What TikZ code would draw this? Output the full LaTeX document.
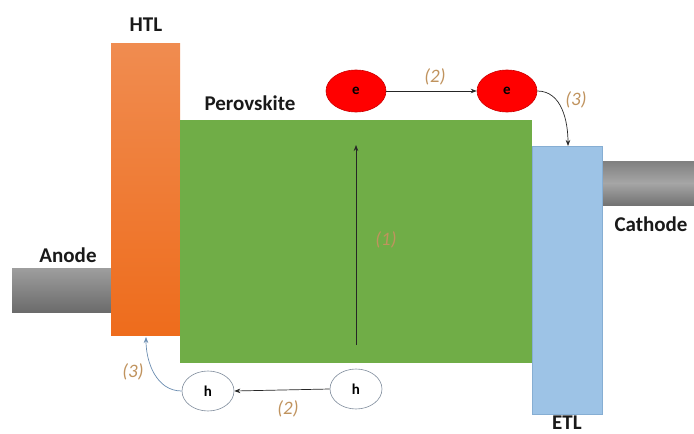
\documentclass[tikz,border=0pt]{standalone}
\usepackage{fontspec}
\setmainfont{Carlito}
\usetikzlibrary{arrows.meta,shapes.geometric}
\definecolor{htltop}{HTML}{F08C50}
\definecolor{htlbot}{HTML}{EE6C1C}
\definecolor{pgreen}{HTML}{70AD47}
\definecolor{etlblue}{HTML}{9DC3E6}
\definecolor{etledge}{HTML}{86AED3}
\definecolor{lblcol}{HTML}{C0935E}
\definecolor{hedge}{HTML}{7F8C9C}
\definecolor{harrow}{HTML}{6A8CB0}
\tikzset{
  layer/.style={rectangle, inner sep=0pt, draw=none},
  title/.style={font=\fontsize{21}{24}\selectfont\bfseries, text=black!90},
  steplbl/.style={font=\fontsize{19}{22}\selectfont\itshape, text=lblcol},
  electron/.style={ellipse, fill=red, draw=red!80!black, line width=0.6pt, minimum width=60pt, minimum height=42pt, inner sep=0pt, font=\fontsize{15}{16}\selectfont\bfseries},
  hole/.style={ellipse, fill=white, draw=hedge, line width=0.6pt, minimum width=52pt, minimum height=40pt, inner sep=0pt, font=\fontsize{15}{16}\selectfont\bfseries},
  flow/.style={-{Stealth[length=6pt,width=4.5pt]}, line width=0.7pt, black!85},
}
\begin{document}
\begin{tikzpicture}[x=1pt,y=-1pt]
\useasboundingbox (0,0) rectangle (694,434);
% electrodes
\node[layer, minimum width=99pt, minimum height=44pt, top color=black!38, bottom color=black!58] (anode) at (61.5,290) {};
\node[layer, minimum width=92pt, minimum height=44pt, top color=black!50, bottom color=black!55, middle color=black!35] (cathode) at (648,183) {};
% layers
\node[layer, minimum width=69pt, minimum height=292pt, top color=htltop, bottom color=htlbot] (htl) at (145.5,189) {};
\node[layer, minimum width=352pt, minimum height=243pt, fill=pgreen] (pero) at (356,241.5) {};
\node[layer, minimum width=70pt, minimum height=268pt, fill=etlblue, draw=etledge, line width=0.5pt] (etl) at (567,280) {};
% titles
\node[title] (thtl) at (146,25) {HTL};
\node[title] (tpero) at (250,103) {Perovskite};
\node[title] (tanode) at (68,255) {Anode};
\node[title] (tcath) at (651,224) {Cathode};
\node[title, inner sep=0pt] (tetl) at (567,423) {ETL};
% carriers
\node[electron] (e1) at (356,91) {e};
\node[electron] (e2) at (507,91) {e};
\node[hole] (h1) at (208,391) {h};
\node[hole] (h2) at (356,389) {h};
% coordinates
\coordinate (vbot) at (356,345);
\coordinate (vtop) at (356,145);
\coordinate (etltop) at (568,146);
\coordinate (htlbot) at (146,337);
% arrows
\draw[flow] (vbot) -- (vtop);
\draw[flow] (e1.east) -- (e2.west);
\draw[flow] (e2.east) to[out=0,in=90] (etltop);
\draw[flow] (h2.west) -- (h1.east);
\draw[flow, harrow] (h1.west) to[out=180,in=-90] (htlbot);
% step labels
\node[steplbl] (l1) at (386,240) {(1)};
\node[steplbl] (l2a) at (435,77) {(2)};
\node[steplbl] (l3a) at (576,100) {(3)};
\node[steplbl] (l2b) at (288,409) {(2)};
\node[steplbl] (l3b) at (133,372) {(3)};
\end{tikzpicture}
\end{document}
